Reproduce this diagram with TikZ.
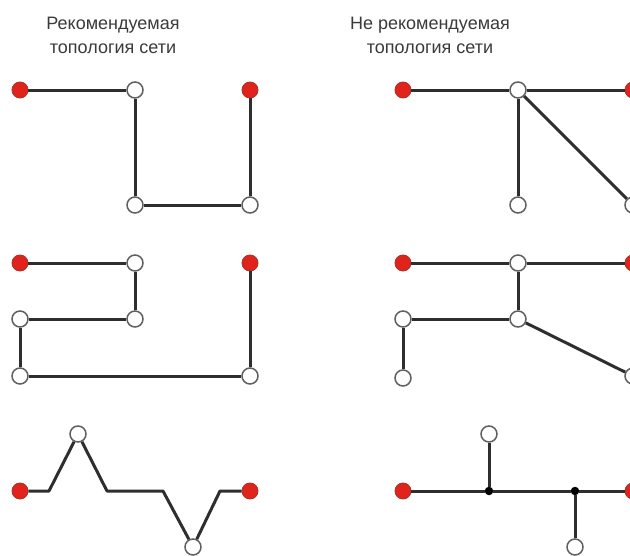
\documentclass[tikz,border=0pt]{standalone}
\usepackage{fontspec}
\setmainfont{Liberation Sans}
\definecolor{termred}{HTML}{E0231B}
\definecolor{termrim}{HTML}{A8342C}
\definecolor{devrim}{HTML}{606060}
\definecolor{wiregray}{HTML}{2E2E2E}
\definecolor{captiongray}{HTML}{3A3A3A}
\begin{document}
\begin{tikzpicture}[x=1pt,y=-1pt,
  wire/.style={line width=3pt,draw=wiregray},
  term/.style={circle,draw=termrim,fill=termred,line width=0.9pt,minimum size=16pt,inner sep=0pt},
  dev/.style={circle,draw=devrim,fill=white,line width=1.5pt,minimum size=16pt,inner sep=0pt},
  joint/.style={circle,fill=black,minimum size=8.5pt,inner sep=0pt},
  caption/.style={font=\fontsize{18}{24}\selectfont,text=captiongray,align=center}]
\useasboundingbox (0,0) rectangle (630,555);
\clip (0,0) rectangle (630,555);

% captions
\node[caption] (capgood) at (113,35) {Рекомендуемая\\топология сети};
\node[caption] (capbad) at (430,35) {Не рекомендуемая\\топология сети};

% recommended, top
\node[term] (ga1) at (20,90) {};
\node[dev] (ga2) at (135,90) {};
\node[dev] (ga3) at (135,205) {};
\node[dev] (ga4) at (250,205) {};
\node[term] (ga5) at (250,90) {};
\draw[wire] (ga1) -- (ga2) -- (ga3) -- (ga4) -- (ga5);

% not recommended, top
\node[term] (ba1) at (403,90) {};
\node[dev] (ba2) at (518,90) {};
\node[term] (ba3) at (633,90) {};
\node[dev] (ba4) at (518,205) {};
\node[dev] (ba5) at (633,205) {};
\draw[wire] (ba1) -- (ba2) -- (ba3);
\draw[wire] (ba2) -- (ba4);
\draw[wire] (ba2) -- (ba5);

% recommended, middle
\node[term] (gb1) at (20,263) {};
\node[dev] (gb2) at (135,263) {};
\node[dev] (gb3) at (135,319) {};
\node[dev] (gb4) at (20,319) {};
\node[dev] (gb5) at (20,376) {};
\node[dev] (gb6) at (250,376) {};
\node[term] (gb7) at (250,263) {};
\draw[wire] (gb1) -- (gb2) -- (gb3) -- (gb4) -- (gb5) -- (gb6) -- (gb7);

% not recommended, middle
\node[term] (bb1) at (403,263) {};
\node[dev] (bb2) at (518,263) {};
\node[term] (bb3) at (633,263) {};
\node[dev] (bb4) at (518,319) {};
\node[dev] (bb5) at (403,319) {};
\node[dev] (bb6) at (403,378) {};
\node[dev] (bb7) at (633,376) {};
\draw[wire] (bb1) -- (bb2) -- (bb3);
\draw[wire] (bb2) -- (bb4) -- (bb5) -- (bb6);
\draw[wire] (bb4) -- (bb7);

% recommended, bottom
\node[term] (gc1) at (20,491) {};
\coordinate (gk1) at (49,491);
\node[dev] (gc2) at (78,434) {};
\coordinate (gk2) at (107,491);
\coordinate (gk3) at (163,491);
\node[dev] (gc3) at (193,547) {};
\coordinate (gk4) at (220,491);
\node[term] (gc4) at (250,491) {};
\draw[wire,line join=round] (gc1) -- (gk1) -- (gc2) -- (gk2) -- (gk3) -- (gc3) -- (gk4) -- (gc4);

% not recommended, bottom
\node[term] (bc1) at (403,491) {};
\node[joint] (bj1) at (489,491) {};
\node[dev] (bc2) at (489,434) {};
\node[joint] (bj2) at (575,491) {};
\node[dev] (bc3) at (575,547) {};
\node[term] (bc4) at (633,491) {};
\draw[wire] (bc1) -- (bj1) -- (bj2) -- (bc4);
\draw[wire] (bj1) -- (bc2);
\draw[wire] (bj2) -- (bc3);
\end{tikzpicture}
\end{document}
